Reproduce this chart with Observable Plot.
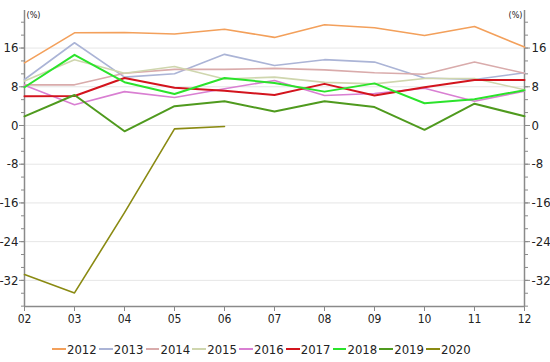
<!DOCTYPE html>
<html>
<head>
<meta charset="utf-8">
<script src="https://cdn.jsdelivr.net/npm/d3@7"></script>
<script src="https://cdn.jsdelivr.net/npm/@observablehq/plot@0.6"></script>
<style>
  html, body { margin: 0; padding: 0; background: #fff; }
  body { width: 550px; height: 362px; overflow: hidden; font-family: "DejaVu Sans Condensed", "DejaVu Sans", sans-serif; font-stretch: condensed; }
  svg text { font-stretch: condensed; }
  #legend { display: flex; padding-left: 50px; height: 26px; align-items: center; font-size: 13px; color: #222; }
  .item { display: flex; align-items: center; width: 46.75px; }
  .item svg { margin-right: 1px; }
</style>
</head>
<body>
<div id="chart"></div>
<div id="legend"></div>
<script>
const months = [2, 3, 4, 5, 6, 7, 8, 9, 10, 11, 12];
const years = ["2012", "2013", "2014", "2015", "2016", "2017", "2018", "2019", "2020"];
const colors = ["#f3a05b", "#abb4d6", "#d9abab", "#cfd6ae", "#d97fd2", "#d3141d", "#2be32b", "#4f9a1e", "#8a8a12"];
const widths = [1.6, 1.6, 1.6, 1.6, 1.6, 2, 2, 2, 1.6];

const v2012 = [12.95, 19.15, 19.2, 18.9, 19.9, 18.2, 20.8, 20.2, 18.6, 20.45, 16.2];
const v2013 = [9.5, 17.1, 10.0, 10.7, 14.7, 12.4, 13.6, 13.1, 9.8, 9.5, 10.9];
const v2014 = [8.4, 8.4, 10.8, 11.6, 11.6, 11.8, 11.5, 10.9, 10.6, 13.1, 10.8];
const v2015 = [9.2, 13.6, 10.8, 12.2, 9.6, 10.0, 8.9, 8.6, 9.7, 9.7, 7.4];
const v2016 = [8.3, 4.3, 7.0, 5.8, 7.6, 9.3, 6.2, 6.6, 7.7, 5.0, 7.1];
const v2017 = [6.05, 6.1, 9.8, 7.8, 7.2, 6.3, 8.6, 6.2, 7.9, 9.4, 9.4];
const v2018 = [7.9, 14.6, 8.95, 6.5, 9.8, 8.8, 7.0, 8.7, 4.6, 5.4, 7.3];
const v2019 = [1.9, 6.3, -1.2, 4.0, 5.0, 2.9, 5.0, 3.8, -0.9, 4.5, 1.9];
const v2020 = [-30.8, -34.6, -18.0, -0.7, -0.2];

const series = [v2012, v2013, v2014, v2015, v2016, v2017, v2018, v2019, v2020];
const majorTicks = [-32, -24, -16, -8, 0, 8, 16];
const minorTicks = d3.range(-37.33, 24, 8 / 3).map(d => Math.round(d * 100) / 100);
const yDomain = [-37.4, 23.76];

const fontFam = '"DejaVu Sans Condensed", "DejaVu Sans", sans-serif';
const axisColor = "#8a8a8a";

const lineMarks = years.map((yr, i) =>
  Plot.lineY(series[i].map((v, j) => ({month: months[j], value: v})), {
    x: "month", y: "value", stroke: colors[i], strokeWidth: widths[i]
  })
);

const chart = Plot.plot({
  width: 550,
  height: 336,
  marginLeft: 24,
  marginRight: 26,
  marginTop: 10,
  marginBottom: 30,
  style: {fontFamily: fontFam, fontSize: "12px", color: "#222", background: "#fff"},
  x: {domain: [2, 12]},
  y: {domain: yDomain},
  marks: [
    Plot.gridY(majorTicks, {stroke: "#e6e6e6", strokeOpacity: 1}),
    Plot.axisY(minorTicks, {anchor: "left", tickSize: 3, tickFormat: () => "", label: null, stroke: axisColor}),
    Plot.axisY(minorTicks, {anchor: "right", tickSize: 3, tickFormat: () => "", label: null, stroke: axisColor}),
    Plot.axisY(majorTicks, {anchor: "left", tickSize: 5, tickPadding: 1, stroke: axisColor, fill: "#222", fontSize: 13, label: null, tickFormat: d => String(d)}),
    Plot.axisY(majorTicks, {anchor: "right", tickSize: 5, tickPadding: 2, stroke: axisColor, fill: "#222", fontSize: 13, label: null, tickFormat: d => String(d)}),
    Plot.axisX(months, {anchor: "bottom", tickSize: 5, tickPadding: 3, stroke: axisColor, fill: "#222", fontSize: 12, label: null, tickFormat: d => String(d).padStart(2, "0")}),
    Plot.ruleX([2, 12], {stroke: axisColor, strokeWidth: 1.5}),
    Plot.ruleY([yDomain[0]], {stroke: axisColor, strokeWidth: 1.5}),
    ...lineMarks,
    Plot.text(["(%)"], {frameAnchor: "top-left", textAnchor: "start", dx: 2, dy: 1, fontSize: 9, fill: "#222"}),
    Plot.text(["(%)"], {frameAnchor: "top-right", textAnchor: "end", dx: -2, dy: 1, fontSize: 9, fill: "#222"})
  ]
});
document.getElementById("chart").appendChild(chart);

const legend = document.getElementById("legend");
years.forEach((yr, i) => {
  const item = document.createElement("div");
  item.className = "item";
  item.innerHTML = `<svg width="24" height="6"><line x1="2" y1="3" x2="24" y2="3" stroke="${colors[i]}" stroke-width="2"/></svg><span>${yr}</span>`;
  legend.appendChild(item);
});
</script>
</body>
</html>
